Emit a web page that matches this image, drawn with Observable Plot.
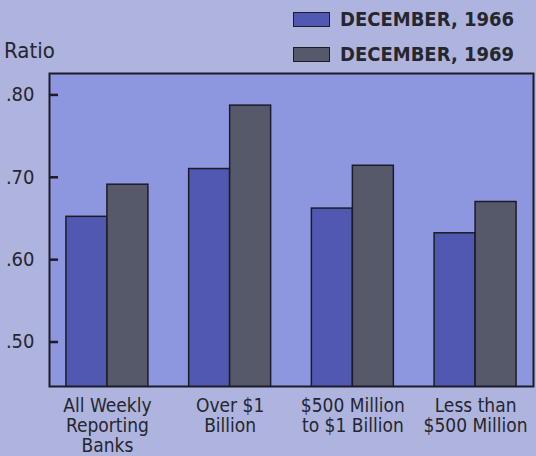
<!DOCTYPE html>
<html><head><meta charset="utf-8">
<script src="https://cdn.jsdelivr.net/npm/d3@7"></script>
<script src="https://cdn.jsdelivr.net/npm/@observablehq/plot@0.6"></script>
<style>
body{margin:0;background:#aeb4de;width:536px;height:456px;overflow:hidden;font-family:"Liberation Sans Narrow","DejaVu Sans Condensed",sans-serif;color:#26262e}
#head{position:relative;height:64px}
#ylabel{position:absolute;left:4px;top:38px;font-size:22px;line-height:26px}
.lg{position:absolute;left:293px;height:24px;display:flex;align-items:center;font-weight:bold;font-size:20px;white-space:nowrap}
.sw{width:35px;height:13px;border:1.5px solid #1c1c28;margin-right:10px}
#chart svg{display:block}
</style></head><body>
<div id="head"><div id="ylabel">Ratio</div></div>
<div id="chart"></div>
<script>
const categories = ["All Weekly\nReporting\nBanks", "Over $1\nBillion", "$500 Million\nto $1 Billion", "Less than\n$500 Million"];
const years = ["DECEMBER, 1966", "DECEMBER, 1969"];
const values1966 = [0.652, 0.710, 0.662, 0.632];
const values1969 = [0.691, 0.787, 0.714, 0.670];
const yTicks = [0.5, 0.6, 0.7, 0.8];
const colors = ["#5058b2", "#56596a"];

const head = document.getElementById("head");
years.forEach((y, i) => {
  const d = document.createElement("div");
  d.className = "lg";
  d.style.top = (i === 0 ? 7 : 42) + "px";
  d.innerHTML = `<span class="sw" style="background:${colors[i]}"></span><span>${y}</span>`;
  head.appendChild(d);
});

const rows1966 = categories.map((c, i) => ({category: c, value: values1966[i]}));
const rows1969 = categories.map((c, i) => ({category: c, value: values1969[i]}));
const ink = "#1c1c28";

const chart = Plot.plot({
  width: 536,
  height: 392,
  marginTop: 9,
  marginBottom: 70,
  marginLeft: 49,
  marginRight: 3,
  style: {background: "transparent", fontFamily: "'Liberation Sans Narrow','DejaVu Sans Condensed',sans-serif", color: "#26262e"},
  x: {domain: categories, paddingInner: 0.332, paddingOuter: 0.138, round: false, label: null},
  y: {domain: [0.446, 0.826], label: null},
  marks: [
    Plot.frame({fill: "#8c97df"}),
    Plot.barY(rows1966, {x: "category", y: "value", fill: colors[0], stroke: ink, strokeWidth: 1.5, insetRight: 41, clip: true}),
    Plot.barY(rows1969, {x: "category", y: "value", fill: colors[1], stroke: ink, strokeWidth: 1.5, insetLeft: 41, clip: true}),
    Plot.axisY(yTicks, {tickSize: 0, tickPadding: 15, fontSize: 20, tickFormat: d => d3.format(".2f")(d).replace(/^0/, ""), label: null}),
    Plot.axisX({tickSize: 0, tickPadding: 11, fontSize: 19, lineHeight: 1.05, label: null}),
    Plot.frame({stroke: ink, strokeWidth: 2}),
    Plot.ruleY(yTicks, {y: d => d, stroke: ink, strokeWidth: 2.5, insetRight: 475})
  ]
});
document.getElementById("chart").appendChild(chart);
</script>
</body></html>
